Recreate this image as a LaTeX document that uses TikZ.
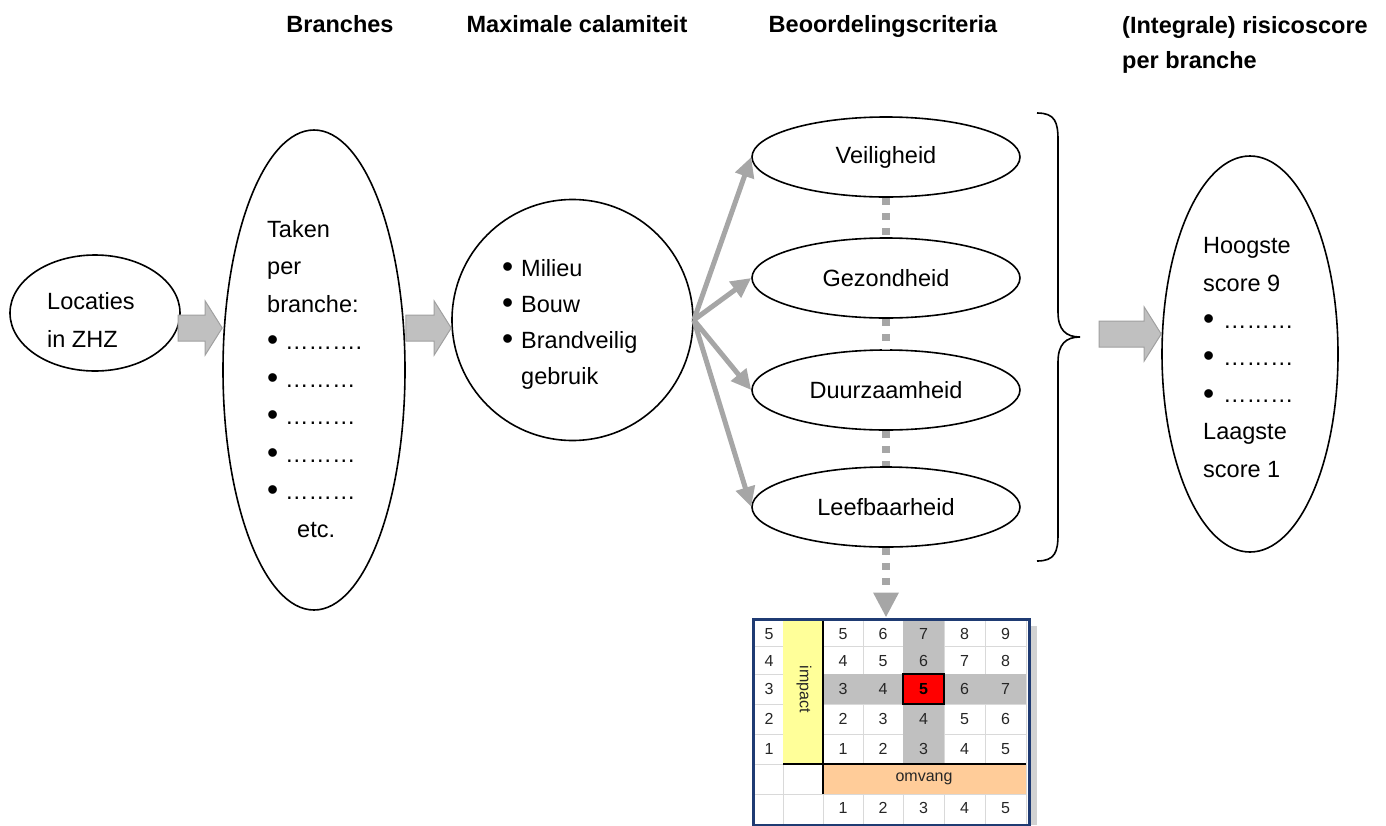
\documentclass[tikz,border=0pt]{standalone}
\usepackage{fontspec}
\setmainfont{Liberation Sans}
\usetikzlibrary{shapes.geometric,arrows.meta,calc}
\definecolor{arrgray}{HTML}{A6A6A6}
\definecolor{blkfill}{HTML}{C0C0C0}
\definecolor{blkdraw}{HTML}{A0A0A0}
\definecolor{navy}{HTML}{1F3B73}
\definecolor{hiyel}{HTML}{FFFF99}
\definecolor{hiora}{HTML}{FFCC99}
\definecolor{cellgray}{HTML}{C0C0C0}
\newcommand\bul[1][18pt]{\makebox[#1][l]{\raisebox{-0.12ex}{\scalebox{1.35}{•}}}}
\newcommand\blockarrow[2]{%
  \draw[blockarr] let \p1=(#1), \p2=(#2) in
    (\x1,\y1+13pt) -- (\x2-17pt,\y1+13pt) -- (\x2-17pt,\y1+27pt) -- (\x2,\y1)
    -- (\x2-17pt,\y1-27pt) -- (\x2-17pt,\y1-13pt) -- (\x1,\y1-13pt) -- cycle;}
\begin{document}
\begin{tikzpicture}[x=1pt,y=-1pt,
  every node/.style={font=\fontsize{23.5}{37.5}\selectfont, inner sep=0pt},
  oval/.style={ellipse, draw, line width=1.6pt, fill=white},
  head/.style={font=\fontsize{23.5}{35}\selectfont\bfseries, anchor=base},
  txt/.style={align=left, anchor=base west},
  fan/.style={draw=arrgray, line width=5pt, -{Triangle[length=20pt,width=19pt]}},
  dotln/.style={draw=arrgray, line width=8pt, dash pattern=on 7pt off 8pt},
  blockarr/.style={fill=blkfill, draw=blkdraw, line width=1pt},
  mtxt/.style={font=\fontsize{16}{16}\selectfont, text=black!85}
]
\useasboundingbox (0,0) rectangle (1386,825);

% headings
\node[head] (h1) at (340,32) {Branches};
\node[head] (h2) at (577,32) {Maximale calamiteit};
\node[head] (h3) at (883,32) {Beoordelingscriteria};
\node[head, anchor=base west, align=left] (h4) at (1122,68) {(Integrale) risicoscore\\per branche};

% ellipses
\node[oval, minimum width=170, minimum height=116] (loc) at (95,313) {};
\node[oval, minimum width=182, minimum height=480] (br) at (314,370) {};
\node[oval, minimum width=241, minimum height=241] (cal) at (572.5,320) {};
\node[oval, minimum width=268, minimum height=80] (vei) at (886,157) {Veiligheid};
\node[oval, minimum width=268, minimum height=80] (gez) at (886,278) {Gezondheid};
\node[oval, minimum width=268, minimum height=80] (duu) at (886,390) {Duurzaamheid};
\node[oval, minimum width=268, minimum height=80] (lee) at (886,507) {Leefbaarheid};
\node[oval, minimum width=176, minimum height=396] (rs) at (1250,354) {};

% texts inside (base anchor = last line)
\node[txt] (loct) at (47,347) {Locaties\\in ZHZ};
\node[txt] (brt) at (267,537) {Taken\\per\\branche:\\\bul ……….\\\bul ………\\\bul ………\\\bul ………\\\bul ………\\\hspace*{30pt}etc.};
\node[txt, font=\fontsize{23.5}{36}\selectfont] (calt) at (502,384) {\bul[19pt]Milieu\\\bul[19pt]Bouw\\\bul[19pt]Brandveilig\\\hspace*{19pt}gebruik};
\node[txt, font=\fontsize{23.5}{37.2}\selectfont] (rst) at (1203,477) {Hoogste\\score 9\\\bul[20pt]………\\\bul[20pt]………\\\bul[20pt]………\\Laagste\\score 1};

% block arrows
\coordinate (a1s) at (178,328);
\coordinate (a1e) at (br.west |- a1s);
\coordinate (a2s) at (br.east |- a1s);
\coordinate (a2e) at (cal.west |- a1s);
\coordinate (a3s) at (1099,334);
\coordinate (a3e) at (rs.west |- a3s);
\blockarrow{a1s}{a1e}
\blockarrow{a2s}{a2e}
\blockarrow{a3s}{a3e}

% fan arrows
\draw[fan] (cal.east) -- (vei.west);
\draw[fan] (cal.east) -- (gez.west);
\draw[fan] (cal.east) -- (duu.west);
\draw[fan] (cal.east) -- (lee.west);

% dotted links
\draw[dotln] (vei.south) -- (gez.north);
\draw[dotln] (gez.south) -- (duu.north);
\draw[dotln] (duu.south) -- (lee.north);

% brace
\draw[line width=1.6pt] (1037,113) .. controls (1055,113) and (1058,122) .. (1058,140)
  -- (1058,312) .. controls (1058,330) and (1066,337) .. (1080,337)
  .. controls (1066,337) and (1058,344) .. (1058,362)
  -- (1058,534) .. controls (1058,552) and (1055,561) .. (1037,561);

% matrix
\fill[gray!35] (1031,626) rectangle (1037,825);
\fill[white] (752,619) rectangle (1031,825);
\foreach \xa/\xb in {752/783,783/823,823/863,863/903,903/944,944/985,985/1026}
  \foreach \ya/\yb in {619/646,646/674,674/704,704/734,734/764,764/794,794/825}
    \draw[gray!30, line width=1pt, fill=white] (\xa,\ya) rectangle (\xb,\yb);
\fill[cellgray] (903,619) rectangle (944,764);
\fill[cellgray] (823,674) rectangle (1026,704);
\fill[hiyel] (783,619) rectangle (823,764);
\fill[hiora] (823,764) rectangle (1026,794);
\draw[black, line width=2pt, fill=red] (903,674) rectangle (944,704);
\draw[black, line width=2pt] (823,619) -- (823,794);
\draw[black, line width=2pt] (783,764) -- (1026,764);
\foreach \v/\y in {5/634,4/661,3/689,2/719,1/749}
  \node[mtxt] (l\v) at (769,\y) {\v};
\foreach \r/\y in {1/634,2/661,3/689,4/719,5/749}
  \foreach \c/\x in {1/843,2/883,3/923.5,4/964.5,5/1005.5}{
    \pgfmathtruncatemacro\val{6-\r+\c-1}
    \ifnum\r\c=33
      \node[mtxt, font=\fontsize{16}{16}\selectfont\bfseries, text=black] (c\r\c) at (\x,\y) {\val};
    \else
      \node[mtxt] (c\r\c) at (\x,\y) {\val};
    \fi
  }
\foreach \c/\x in {1/843,2/883,3/923.5,4/964.5,5/1005.5}
  \node[mtxt] (b\c) at (\x,808) {\c};
\node[mtxt, rotate=-90] (imp) at (804,689) {impact};
\node[mtxt] (omv) at (924,779) {omvang};
\node[draw=navy, line width=3pt, minimum width=276, minimum height=206, inner sep=0pt] (mat) at (891.5,722) {};

\draw[dotln, -{Triangle[length=25pt,width=24pt]}] (lee.south) -- (lee.south |- mat.north);
\end{tikzpicture}
\end{document}
